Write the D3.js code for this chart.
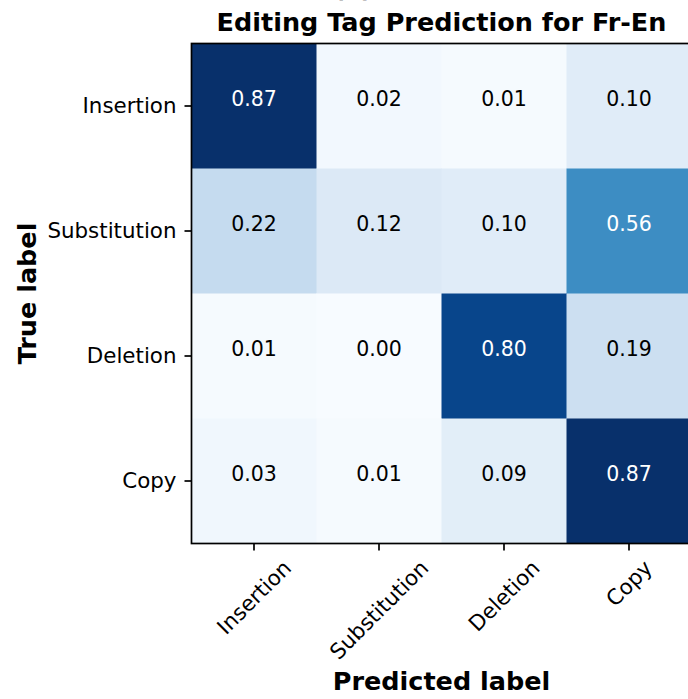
<!DOCTYPE html>
<html>
<head>
<meta charset="utf-8">
<script src="https://cdn.jsdelivr.net/npm/d3@7"></script>
<style>
  html, body { margin: 0; padding: 0; background: #fff; overflow: hidden; }
  text { font-family: "DejaVu Sans", sans-serif; }
</style>
</head>
<body>
<svg id="chart" width="688" height="699"></svg>
<script>
// confusion matrix values (rows = true label, cols = predicted label)
var labels = ["Insertion", "Substitution", "Deletion", "Copy"];
var rowInsertion = [0.87, 0.02, 0.01, 0.10];
var rowSubstitution = [0.22, 0.12, 0.10, 0.56];
var rowDeletion = [0.01, 0.00, 0.80, 0.19];
var rowCopy = [0.03, 0.01, 0.09, 0.87];
var matrix = [rowInsertion, rowSubstitution, rowDeletion, rowCopy];

// matplotlib "Blues"
var blues = ["#f7fbff", "#deebf7", "#c6dbef", "#9ecae1", "#6baed6", "#4292c6", "#2171b5", "#08519c", "#08306b"];

var svg = d3.select("#chart");
var mLeft = 191.5, mTop = 43.5, cell = 125;
var width = cell * labels.length, height = cell * labels.length;

var x = d3.scaleBand().domain(labels).range([mLeft, mLeft + width]);
var y = d3.scaleBand().domain(labels).range([mTop, mTop + height]);

var vmax = d3.max(matrix, function(r) { return d3.max(r); });
var color = d3.scaleLinear()
    .domain(blues.map(function(d, i) { return vmax * i / (blues.length - 1); }))
    .range(blues)
    .clamp(true);

var cells = [];
matrix.forEach(function(row, i) {
  row.forEach(function(v, j) { cells.push({ r: labels[i], c: labels[j], v: v }); });
});

svg.selectAll("rect.cell")
  .data(cells)
  .enter().append("rect")
  .attr("class", "cell")
  .attr("x", function(d) { return x(d.c); })
  .attr("y", function(d) { return y(d.r); })
  .attr("width", x.bandwidth() + 0.5)
  .attr("height", y.bandwidth() + 0.5)
  .attr("fill", function(d) { return color(d.v); });

// matplotlib centres the text box (incl. descent), so digits sit a bit high
svg.selectAll("text.val")
  .data(cells)
  .enter().append("text")
  .attr("class", "val")
  .attr("x", function(d) { return x(d.c) + x.bandwidth() / 2; })
  .attr("y", function(d) { return y(d.r) + y.bandwidth() / 2 - 7; })
  .attr("text-anchor", "middle")
  .attr("dominant-baseline", "central")
  .attr("font-size", "20.5px")
  .attr("fill", function(d) { return d.v > vmax / 2 ? "#fff" : "#000"; })
  .text(function(d) { return d.v.toFixed(2); });

// frame
svg.append("rect")
  .attr("x", mLeft).attr("y", mTop)
  .attr("width", width).attr("height", height)
  .attr("fill", "none").attr("stroke", "#000").attr("stroke-width", 1.7);

// y axis
var yAxis = svg.append("g")
  .attr("transform", "translate(" + mLeft + ",0)")
  .call(d3.axisLeft(y).tickSize(7).tickPadding(8));
yAxis.select(".domain").remove();
yAxis.selectAll("line").attr("stroke", "#000").attr("stroke-width", 1.7);
yAxis.selectAll("text")
  .attr("font-size", "21.4px").attr("fill", "#000")
  .attr("font-family", "DejaVu Sans");

// x axis
var xAxis = svg.append("g")
  .attr("transform", "translate(0," + (mTop + height) + ")")
  .call(d3.axisBottom(x).tickSize(7).tickPadding(7));
xAxis.select(".domain").remove();
xAxis.selectAll("line").attr("stroke", "#000").attr("stroke-width", 1.7);
xAxis.selectAll("text")
  .attr("font-size", "21.4px").attr("fill", "#000")
  .attr("font-family", "DejaVu Sans")
  .each(function() {
    var t = d3.select(this);
    var w = this.getComputedTextLength();
    var h = 21.4;
    var half = (w + h) / (2 * Math.SQRT2);
    var cy = 13 + half;
    t.attr("x", 0).attr("y", 0).attr("dy", null)
     .attr("text-anchor", "middle")
     .attr("dominant-baseline", "central")
     .attr("transform", "translate(0," + cy + ") rotate(-45)");
  });

// titles ("(a)" sits mostly above the page edge, as in the source)
svg.append("text")
  .attr("x", 353).attr("y", -3)
  .attr("text-anchor", "middle")
  .attr("font-size", "24px").attr("font-weight", "bold")
  .text("(a)");

svg.append("text")
  .attr("x", mLeft + width / 2).attr("y", 31)
  .attr("text-anchor", "middle")
  .attr("font-size", "25.5px").attr("font-weight", "bold")
  .text("Editing Tag Prediction for Fr-En");

svg.append("text")
  .attr("x", mLeft + width / 2).attr("y", 690)
  .attr("text-anchor", "middle")
  .attr("font-size", "25.5px").attr("font-weight", "bold")
  .text("Predicted label");

svg.append("text")
  .attr("transform", "translate(36," + (mTop + height / 2) + ") rotate(-90)")
  .attr("text-anchor", "middle")
  .attr("font-size", "25.5px").attr("font-weight", "bold")
  .text("True label");
</script>
</body>
</html>
